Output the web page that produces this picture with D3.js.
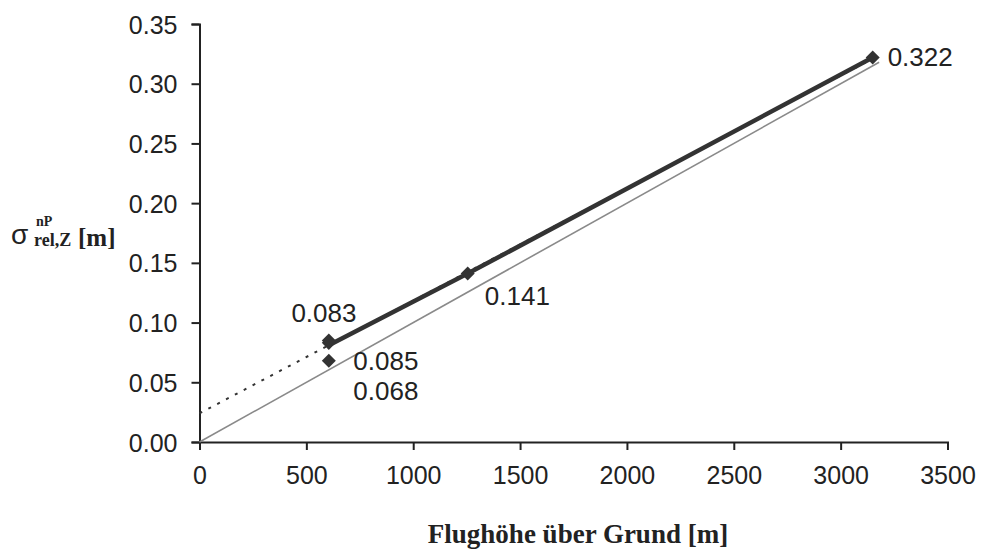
<!DOCTYPE html>
<html><head><meta charset="utf-8">
<script src="https://cdn.jsdelivr.net/npm/d3@7"></script>
<style>
html,body{margin:0;padding:0;background:#fff;}
svg{display:block;}
</style></head>
<body>
<svg id="c" width="984" height="549"></svg>
<script>
// Data
const xTicks = [0, 500, 1000, 1500, 2000, 2500, 3000, 3500];
const yTicks = [0, 0.05, 0.10, 0.15, 0.20, 0.25, 0.30, 0.35];
// measured points (Flughöhe, sigma)
const pointHeights = [605, 605, 605, 1255, 3150];
const pointValues  = [0.083, 0.085, 0.068, 0.141, 0.322];
// connecting line of the measured points
const lineHeights = [605, 1255, 3150];
const lineValues  = [0.081, 0.141, 0.322];
// linear trend (dotted), extended to 0
const trendHeights = [0, 3150];
const trendValues  = [0.024, 0.321];
// reference line through origin (grey)
const refHeights = [0, 3180];
const refValues  = [0, 0.318];
// value labels
const labelTexts   = ["0.083", "0.085", "0.068", "0.141", "0.322"];
const labelHeights = [430, 720, 720, 1335, 3220];
const labelValues  = [0.1005, 0.0605, 0.0355, 0.1145, 0.3145];

const svg = d3.select("#c");
const x = d3.scaleLinear().domain([0, 3500]).range([199.5, 947.5]);
const y = d3.scaleLinear().domain([0, 0.35]).range([442, 24]);
const ink = "#222";

// axes
const xAxis = svg.append("g").attr("transform", `translate(0,${y(0)})`)
  .call(d3.axisBottom(x).tickValues(xTicks).tickSize(8).tickSizeOuter(8).tickPadding(16).tickFormat(d3.format("d")));
const yAxis = svg.append("g").attr("transform", `translate(${x(0)},0)`)
  .call(d3.axisLeft(y).tickValues(yTicks).tickSize(8).tickSizeOuter(8).tickPadding(14).tickFormat(d3.format(".2f")));
[xAxis, yAxis].forEach(a => {
  a.selectAll("path.domain").attr("stroke", ink).attr("stroke-width", 2);
  a.selectAll(".tick line").attr("stroke", ink).attr("stroke-width", 2);
  a.selectAll(".tick text").attr("fill", ink)
    .style("font-family", "'Liberation Sans', Arial, sans-serif").style("font-size", "25px");
});
xAxis.selectAll(".tick text").attr("dy", "0.71em");
yAxis.selectAll(".tick text").attr("dy", "0.36em");

const line = d3.line().x(d => x(d[0])).y(d => y(d[1]));

// grey reference line
svg.append("path").datum(d3.zip(refHeights, refValues))
  .attr("d", line).attr("fill", "none").attr("stroke", "#8a8a8a").attr("stroke-width", 1.6);

// dotted trend line
svg.append("path").datum(d3.zip(trendHeights, trendValues))
  .attr("d", line).attr("fill", "none").attr("stroke", "#333").attr("stroke-width", 2)
  .attr("stroke-dasharray", "3,7");

// thick connecting line
svg.append("path").datum(d3.zip(lineHeights, lineValues))
  .attr("d", line).attr("fill", "none").attr("stroke", "#333").attr("stroke-width", 4.5);

// diamonds
const diamond = d3.symbol().type(d3.symbolDiamond2).size(125);
svg.selectAll("path.pt").data(d3.zip(pointHeights, pointValues)).join("path")
  .attr("class", "pt")
  .attr("transform", d => `translate(${x(d[0])},${y(d[1])})`)
  .attr("d", diamond).attr("fill", "#333");

// value labels
svg.selectAll("text.lbl").data(d3.zip(labelTexts, labelHeights, labelValues)).join("text")
  .attr("class", "lbl")
  .attr("x", d => x(d[1])).attr("y", d => y(d[2]))
  .attr("fill", ink)
  .style("font-family", "'Liberation Sans', Arial, sans-serif").style("font-size", "26px")
  .text(d => d[0]);

// x axis title
svg.append("text").attr("x", 578).attr("y", 543).attr("text-anchor", "middle")
  .attr("fill", ink)
  .style("font-family", "'Liberation Serif', 'Times New Roman', serif")
  .style("font-weight", "bold").style("font-size", "27px")
  .text("Flughöhe über Grund [m]");

// y axis title: sigma with super/subscripts
const yt = svg.append("g").attr("fill", ink);
yt.append("text").attr("x", 11).attr("y", 244)
  .style("font-family", "'Liberation Sans', Arial, sans-serif").style("font-size", "28px")
  .text("σ");
yt.append("text").attr("x", 36).attr("y", 226)
  .style("font-family", "'Liberation Serif', serif").style("font-weight", "bold").style("font-size", "14px")
  .text("nP");
yt.append("text").attr("x", 34).attr("y", 246)
  .style("font-family", "'Liberation Serif', serif").style("font-weight", "bold").style("font-size", "18px")
  .text("rel,Z");
yt.append("text").attr("x", 78).attr("y", 246)
  .style("font-family", "'Liberation Serif', serif").style("font-weight", "bold").style("font-size", "25px")
  .text("[m]");
</script>
</body></html>
